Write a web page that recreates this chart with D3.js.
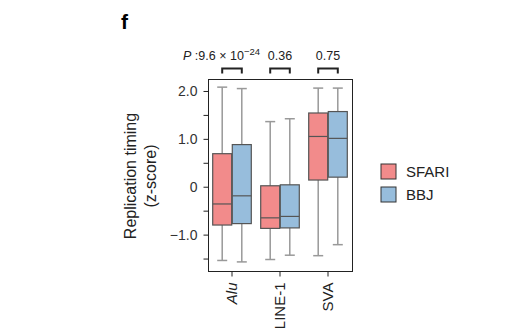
<!DOCTYPE html>
<html>
<head>
<meta charset="utf-8">
<script src="https://cdn.jsdelivr.net/npm/d3@7/dist/d3.min.js"></script>
<style>
  body { margin: 0; background: #fff; }
  svg { font-family: "Liberation Sans", Arial, sans-serif; }
</style>
</head>
<body>
<svg id="chart" width="505" height="332"></svg>
<script>
// Repeat families and groups
const categories = ['Alu', 'LINE-1', 'SVA'];
const groups = ['SFARI', 'BBJ'];

// Box stats per category: [lower whisker, q1, median, q3, upper whisker]
const sfariStats = [
  [-1.54, -0.80, -0.36, 0.69, 2.08],
  [-1.52, -0.87, -0.65, 0.02, 1.36],
  [-1.44, 0.14, 1.05, 1.54, 2.06],
];
const bbjStats = [
  [-1.57, -0.77, -0.19, 0.88, 2.05],
  [-1.43, -0.86, -0.62, 0.04, 1.42],
  [-1.21, 0.20, 1.01, 1.57, 2.06],
];

const pValues = ['P :9.6 × 10', '0.36', '0.75'];
const majorTicks = [-1, 0, 1, 2];
const minorTicks = [-1.5, -0.5, 0.5, 1.5];
const tickLabels = ['−1.0', '0', '1.0', '2.0'];

const colors = { SFARI: '#f28b8b', BBJ: '#97bddc' };

const margin = { top: 79, right: 153, bottom: 61, left: 208 };
const width = 505, height = 332;

const svg = d3.select('#chart');

const x = d3.scaleBand()
  .domain(categories)
  .range([margin.left, width - margin.right]);

const xSub = d3.scaleBand()
  .domain(groups)
  .range([0, x.bandwidth()])
  .paddingInner(0.03)
  .paddingOuter(0.24);

const y = d3.scaleLinear()
  .domain([-1.76, 2.25])
  .range([height - margin.bottom, margin.top]);

// Frame
svg.append('rect')
  .attr('x', margin.left + 0.5)
  .attr('y', margin.top + 0.5)
  .attr('width', width - margin.left - margin.right)
  .attr('height', height - margin.top - margin.bottom)
  .attr('fill', 'none')
  .attr('stroke', '#222')
  .attr('stroke-width', 1);

// Y axis (major labelled, minor ticks unlabelled)
const yAxis = svg.append('g')
  .attr('transform', `translate(${margin.left + 0.5},0)`)
  .call(d3.axisLeft(y).tickValues(majorTicks.concat(minorTicks))
    .tickSize(5).tickPadding(6)
    .tickFormat((d) => {
      const i = majorTicks.indexOf(d);
      return i >= 0 ? tickLabels[i] : '';
    }));
yAxis.select('.domain').remove();
yAxis.selectAll('.tick line').attr('stroke', '#222');
yAxis.selectAll('.tick text').attr('font-size', 14).attr('fill', '#333')
  .attr('font-family', '"Liberation Sans", Arial, sans-serif');

// X axis
const xAxis = svg.append('g')
  .attr('transform', `translate(0,${height - margin.bottom + 0.5})`)
  .call(d3.axisBottom(x).tickSize(5).tickPadding(6));
xAxis.select('.domain').remove();
xAxis.selectAll('.tick line').attr('stroke', '#222');
xAxis.selectAll('.tick text')
  .attr('font-size', 15).attr('fill', '#222')
  .attr('font-family', '"Liberation Sans", Arial, sans-serif')
  .attr('font-style', (d) => d === 'Alu' ? 'italic' : 'normal')
  .attr('transform', 'rotate(-90)')
  .attr('text-anchor', 'end')
  .attr('dy', '0.35em')
  .attr('x', -11)
  .attr('y', 0);

// Boxes
const boxData = [];
categories.forEach((c, i) => {
  boxData.push({ cat: c, grp: 'SFARI', s: sfariStats[i] });
  boxData.push({ cat: c, grp: 'BBJ', s: bbjStats[i] });
});

const boxes = svg.append('g').selectAll('g')
  .data(boxData)
  .join('g')
  .attr('transform', (d) => `translate(${x(d.cat) + xSub(d.grp)},0)`);

const bw = xSub.bandwidth();

boxes.append('line')
  .attr('x1', bw / 2).attr('x2', bw / 2)
  .attr('y1', (d) => y(d.s[0])).attr('y2', (d) => y(d.s[4]))
  .attr('stroke', '#999').attr('stroke-width', 1.5);

boxes.selectAll('.cap')
  .data((d) => [d.s[0], d.s[4]])
  .join('line')
  .attr('class', 'cap')
  .attr('x1', bw / 2 - 5).attr('x2', bw / 2 + 5)
  .attr('y1', (v) => y(v)).attr('y2', (v) => y(v))
  .attr('stroke', '#999').attr('stroke-width', 1.5);

boxes.append('rect')
  .attr('x', 0)
  .attr('width', bw)
  .attr('y', (d) => y(d.s[3]))
  .attr('height', (d) => y(d.s[1]) - y(d.s[3]))
  .attr('fill', (d) => colors[d.grp])
  .attr('stroke', '#555').attr('stroke-width', 1.2);

boxes.append('line')
  .attr('x1', 0).attr('x2', bw)
  .attr('y1', (d) => y(d.s[2])).attr('y2', (d) => y(d.s[2]))
  .attr('stroke', '#555').attr('stroke-width', 1.2);

// P-value brackets
const bracketTop = 68.5, bracketBottom = 73.5;
const brackets = svg.append('g').selectAll('g')
  .data(categories)
  .join('g');

brackets.append('path')
  .attr('d', (c) => {
    const x0 = x(c) + xSub('SFARI') + bw / 2;
    const x1 = x(c) + xSub('BBJ') + bw / 2;
    return `M${x0},${bracketBottom}V${bracketTop}H${x1}V${bracketBottom}`;
  })
  .attr('fill', 'none').attr('stroke', '#222').attr('stroke-width', 2);

brackets.each(function (c, i) {
  const g = d3.select(this);
  const cx = x(c) + x.bandwidth() / 2;
  if (i === 0) {
    const t = g.append('text')
      .attr('x', cx + 28).attr('y', 60)
      .attr('text-anchor', 'end')
      .attr('font-size', 12.5).attr('fill', '#222');
    t.append('tspan').attr('font-style', 'italic').text('P');
    t.append('tspan').text(' :9.6 × 10');
    t.append('tspan').attr('dy', -5).attr('font-size', 9.5).text('−24');
  } else {
    g.append('text')
      .attr('x', cx).attr('y', 60)
      .attr('text-anchor', 'middle')
      .attr('font-size', 12.5).attr('fill', '#222')
      .text(pValues[i]);
  }
});

// Y label
const yLab = svg.append('text')
  .attr('transform', `translate(136,176) rotate(-90)`)
  .attr('text-anchor', 'middle')
  .attr('font-size', 16).attr('fill', '#222');
yLab.append('tspan').attr('x', 0).attr('dy', 0).text('Replication timing');
yLab.append('tspan').attr('x', 0).attr('dy', 20).text('(z-score)');

// Panel letter
svg.append('text')
  .attr('x', 121).attr('y', 29)
  .attr('font-size', 21).attr('font-weight', 'bold').attr('fill', '#000')
  .text('f');

// Legend
const legend = svg.append('g').selectAll('g')
  .data(groups)
  .join('g')
  .attr('transform', (d, i) => `translate(381,${164 + i * 23})`);

legend.append('rect')
  .attr('width', 15).attr('height', 15)
  .attr('fill', (d) => colors[d])
  .attr('stroke', '#333').attr('stroke-width', 1);

legend.append('text')
  .attr('x', 25).attr('y', 7.5).attr('dy', '0.36em')
  .attr('font-size', 15).attr('fill', '#222')
  .text((d) => d);
</script>
</body>
</html>
